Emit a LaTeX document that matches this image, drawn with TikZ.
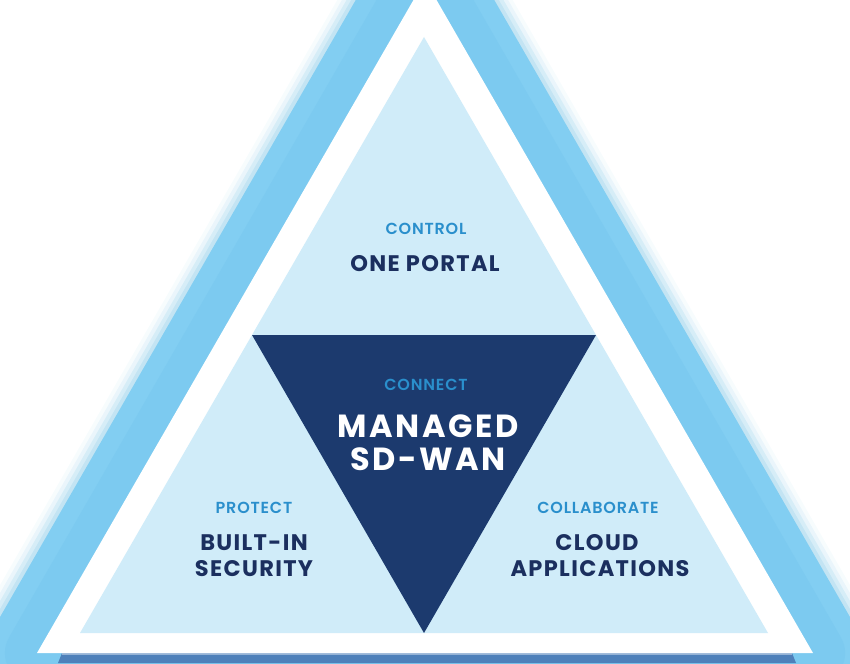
\documentclass[tikz,border=0pt]{standalone}
\usepackage{fontspec}
\setmainfont{Poppins}
\newfontfamily\semibsp{Poppins SemiBold}[LetterSpace=5]
\newfontfamily\boldsp{Poppins Bold}[LetterSpace=6]
\newfontfamily\boldwide{Poppins Bold}[LetterSpace=8]
\definecolor{glowblue}{HTML}{82CEF2}
\definecolor{glowdeep}{HTML}{7CCAF0}
\definecolor{glowfade}{HTML}{B3DDF0}
\definecolor{paleblue}{HTML}{D0ECF9}
\definecolor{navy}{HTML}{1C3A6E}
\definecolor{labelblue}{HTML}{2A8FCC}
\definecolor{textnavy}{HTML}{1B2F5F}
\definecolor{shadowblue}{HTML}{4E80BA}
\tikzset{
  glowline/.style={line join=round, draw=#1},
  smalllabel/.style={font=\semibsp\fontsize{16}{18}\selectfont, text=labelblue, inner sep=0pt},
  biglabel/.style={font=\boldsp\fontsize{22.5}{27}\selectfont, text=textnavy, inner sep=0pt, align=center},
  centerlabel/.style={font=\boldwide\fontsize{32}{34}\selectfont, text=white, inner sep=0pt, align=center}
}
\begin{document}
\begin{tikzpicture}[x=1pt,y=-1pt]
\useasboundingbox (0,0) rectangle (850,663);
\clip (0,0) rectangle (850,663);
\coordinate (WA) at (425,-20);
\coordinate (WL) at (37,653);
\coordinate (WR) at (813,653);
\coordinate (PA) at (424,37);
\coordinate (PL) at (80,633);
\coordinate (PR) at (768,633);
\coordinate (NL) at (252,335);
\coordinate (NR) at (596,335);
\coordinate (NB) at (424,633);
% glow fade
\foreach \w/\o in {132/0.10, 124/0.2, 116/0.35, 108/0.55}{
  \draw[glowline=glowfade, line width=\w pt, opacity=\o] (WA)--(WL)--(WR)--cycle;
}
\draw[glowline=glowblue, line width=100pt] (WA)--(WL)--(WR)--cycle;
\draw[glowline=glowdeep, line width=64pt] (WA)--(WL)--(WR)--cycle;
% bottom shadow
\fill[shadowblue] (62,653) -- (792,653) -- (796,663) -- (58,663) -- cycle;
\fill[shadowblue!60!white] (62,653) rectangle (792,655);
% white band
\fill[white] (WA)--(WL)--(WR)--cycle;
% pale triangle
\fill[paleblue] (PA)--(PL)--(PR)--cycle;
% navy inverted triangle
\fill[navy] (NL)--(NR)--(NB)--cycle;
% texts
\node[smalllabel] (control) at (426,229) {CONTROL};
\node[biglabel] (portal) at (425,264) {ONE PORTAL};
\node[smalllabel] (connect) at (426,385) {CONNECT};
\node[centerlabel] (managed) at (428,426) {MANAGED};
\node[centerlabel] (sdwan) at (428,459) {SD-WAN};
\node[smalllabel] (protect) at (254,508) {PROTECT};
\node[biglabel] (builtin) at (254,543) {BUILT-IN};
\node[biglabel] (security) at (254,569) {SECURITY};
\node[smalllabel] (collab) at (598,508) {COLLABORATE};
\node[biglabel] (cloud) at (597,543) {CLOUD};
\node[biglabel] (apps) at (600,569) {APPLICATIONS};
\end{tikzpicture}
\end{document}
